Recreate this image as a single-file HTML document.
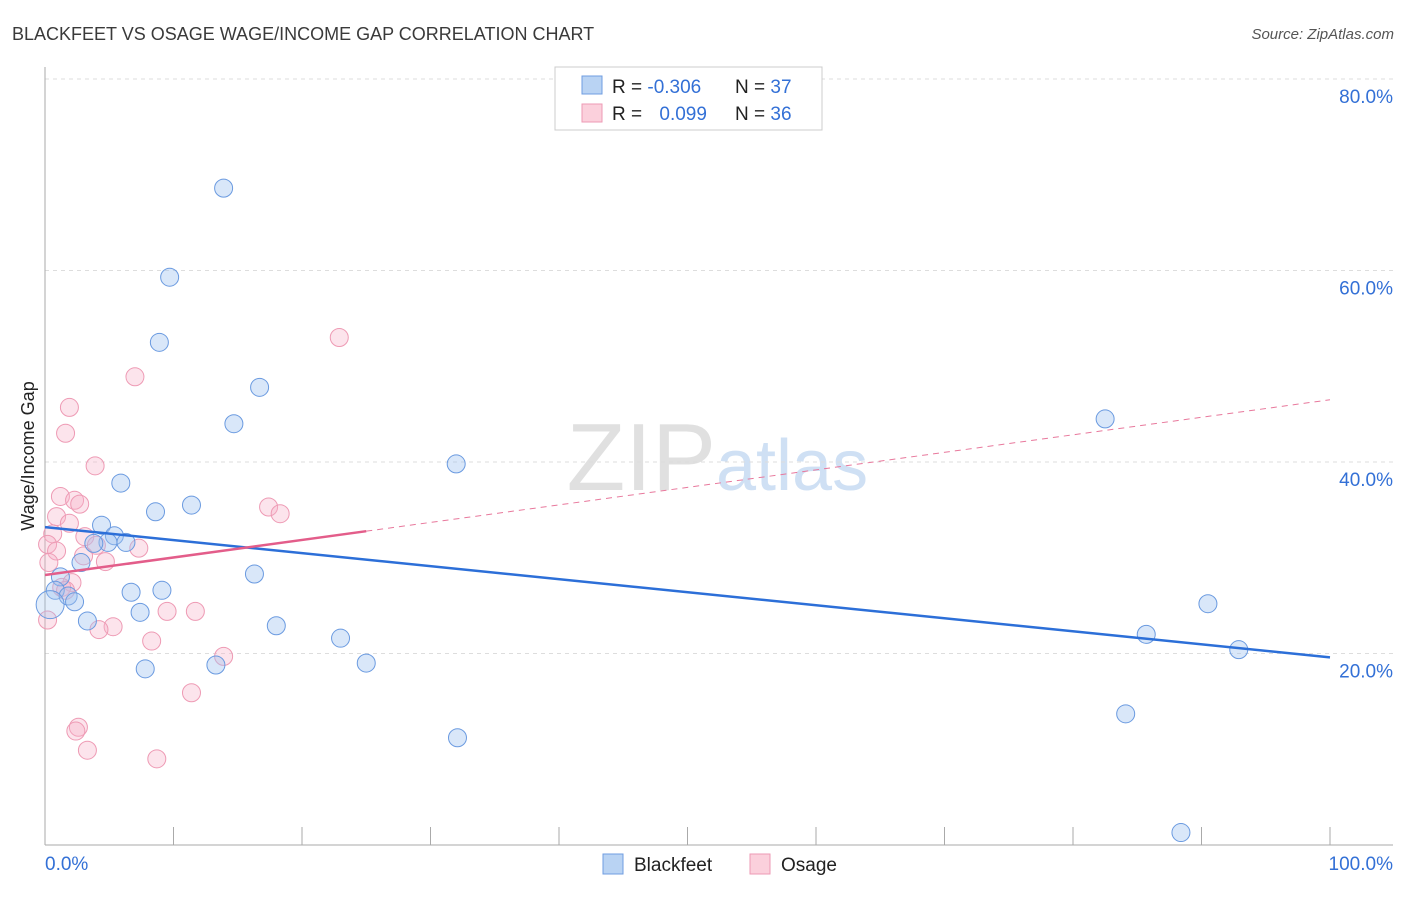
<!DOCTYPE html>
<html><head><meta charset="utf-8"><style>
body{margin:0;background:#fff;font-family:"Liberation Sans",sans-serif;}
svg text{font-family:"Liberation Sans",sans-serif;}
</style></head><body>
<svg id="chart" width="1406" height="892">
<text x="12" y="40" font-size="18" fill="#3a3a3a">BLACKFEET VS OSAGE WAGE/INCOME GAP CORRELATION CHART</text>
<text x="1394" y="39" font-size="15" fill="#555" text-anchor="end" font-style="italic">Source: ZipAtlas.com</text>
<text x="716" y="490" font-size="96" fill="#e0e0e0" text-anchor="end" font-family="Liberation Serif">ZIP</text>
<text x="716" y="490" font-size="72" fill="#cfe0f4">atlas</text>
<g id="grid"></g><g id="axes"></g><g id="pts"></g><g id="lines"></g>
<text transform="translate(34,456) rotate(-90)" font-size="18" fill="#222" text-anchor="middle">Wage/Income Gap</text>
<g>
<rect x="555" y="67" width="267" height="63" fill="#fff" stroke="#ccc"/>
<rect x="582" y="76" width="20" height="18" fill="#b9d3f3" stroke="#6f9ce0"/>
<rect x="582" y="104" width="20" height="18" fill="#fbd0dc" stroke="#ee9ab4"/>
<text x="612" y="93" font-size="19" fill="#222">R = <tspan fill="#3370d6">-0.306</tspan></text>
<text x="735" y="93" font-size="19" fill="#222">N = <tspan fill="#3370d6">37</tspan></text>
<text x="612" y="120" font-size="19" fill="#222">R = <tspan fill="#3370d6" dx="12">0.099</tspan></text>
<text x="735" y="120" font-size="19" fill="#222">N = <tspan fill="#3370d6">36</tspan></text>
</g>
<g>
<rect x="603" y="854" width="20" height="20" fill="#b9d3f3" stroke="#6f9ce0"/>
<text x="634" y="871" font-size="19" fill="#222">Blackfeet</text>
<rect x="750" y="854" width="20" height="20" fill="#fbd0dc" stroke="#ee9ab4"/>
<text x="781" y="871" font-size="19" fill="#222">Osage</text>
</g>
</svg>
<script>
const yTicks=[20,40,60,80];
const yTickLabels=["20.0%","40.0%","60.0%","80.0%"];
const xTicks=[0,10,20,30,40,50,60,70,80,90,100];
const blackX=[13.9,9.7,8.9,16.7,14.7,32.0,82.5,5.9,8.6,11.4,4.4,5.4,4.9,6.3,3.8,2.8,1.2,0.8,9.1,6.7,1.8,2.3,7.4,3.3,18.0,16.3,23.0,25.0,13.3,7.8,32.1,85.7,90.5,92.9,84.1,88.4,0.4];
const blackY=[68.6,59.3,52.5,47.8,44.0,39.8,44.5,37.8,34.8,35.5,33.4,32.3,31.6,31.6,31.5,29.5,28.0,26.6,26.6,26.4,26.0,25.4,24.3,23.4,22.9,28.3,21.6,19.0,18.8,18.4,11.2,22.0,25.2,20.4,13.7,1.3,25.1];
const osageX=[22.9,7.0,1.9,1.6,3.9,1.2,2.3,2.7,0.9,1.9,0.6,3.1,4.0,7.3,0.2,0.9,3.0,4.7,0.3,17.4,18.3,2.1,1.3,11.7,9.5,5.3,4.2,8.3,13.9,11.4,2.6,2.4,3.3,8.7,0.2,1.6];
const osageY=[53.0,48.9,45.7,43.0,39.6,36.4,36.0,35.6,34.3,33.6,32.5,32.2,31.3,31.0,31.4,30.7,30.2,29.6,29.5,35.3,34.6,27.4,26.9,24.4,24.4,22.8,22.5,21.3,19.7,15.9,12.3,11.9,9.9,9.0,23.5,26.6];
const blackTrend=[33.2,19.6];
const osageTrend=[28.2,46.5];
const osageSolidEnd=25;
const NS="http://www.w3.org/2000/svg";
const X=v=>45+v*12.85, Y=v=>845-v*9.575;
function mk(t,a,p){const e=document.createElementNS(NS,t);for(const k in a)e.setAttribute(k,a[k]);document.getElementById(p).appendChild(e);return e;}
yTicks.forEach((t,i)=>{
 const l=mk('line',{x1:45,x2:1393,y1:Y(t),y2:Y(t),stroke:'#ddd','stroke-dasharray':'4,4'},'grid');
 
 
 const tx=mk('text',{x:1393,y:Y(t)+24,'font-size':19,fill:'#3370d6','text-anchor':'end'},'grid');
 tx.textContent=yTickLabels[i];
 
 
});
mk('line',{x1:45,x2:45,y1:67,y2:845,stroke:'#aaa'},'axes');
mk('line',{x1:45,x2:1393,y1:845,y2:845,stroke:'#aaa'},'axes');
xTicks.forEach(t=>{const l=mk('line',{x1:X(t),x2:X(t),y1:827,y2:845,stroke:'#aaa'},'axes');
 
 });
const x0=mk('text',{x:45,y:870,'font-size':19,fill:'#3370d6'},'axes');x0.textContent='0.0%';


const x1=mk('text',{x:1393,y:870,'font-size':19,fill:'#3370d6','text-anchor':'end'},'axes');x1.textContent='100.0%';


osageX.forEach((v,i)=>{const c=mk('circle',{cx:X(v),cy:Y(osageY[i]),r:9,fill:'rgba(246,178,200,0.35)',stroke:'#ee9ab4','stroke-width':1},'pts');
 
 });
blackX.forEach((v,i)=>{const c=mk('circle',{cx:X(v),cy:Y(blackY[i]),r:i==36?14:9,fill:i==36?'rgba(160,196,240,0.3)':'rgba(160,196,240,0.4)',stroke:'#6a9ae0','stroke-width':1},'pts');
 
 });
const bl=mk('line',{x1:X(0),y1:Y(blackTrend[0]),x2:X(100),y2:Y(blackTrend[1]),stroke:'#2c6fd8','stroke-width':2.5},'lines');


const oy=v=>osageTrend[0]+(osageTrend[1]-osageTrend[0])*v/100;
const od=mk('line',{x1:X(osageSolidEnd),y1:Y(oy(osageSolidEnd)),x2:X(100),y2:Y(oy(100)),stroke:'#e8789c','stroke-width':1,'stroke-dasharray':'6,5'},'lines');


const os=mk('line',{x1:X(0),y1:Y(oy(0)),x2:X(osageSolidEnd),y2:Y(oy(osageSolidEnd)),stroke:'#e35d8a','stroke-width':2.5},'lines');


</script>
</body></html>
